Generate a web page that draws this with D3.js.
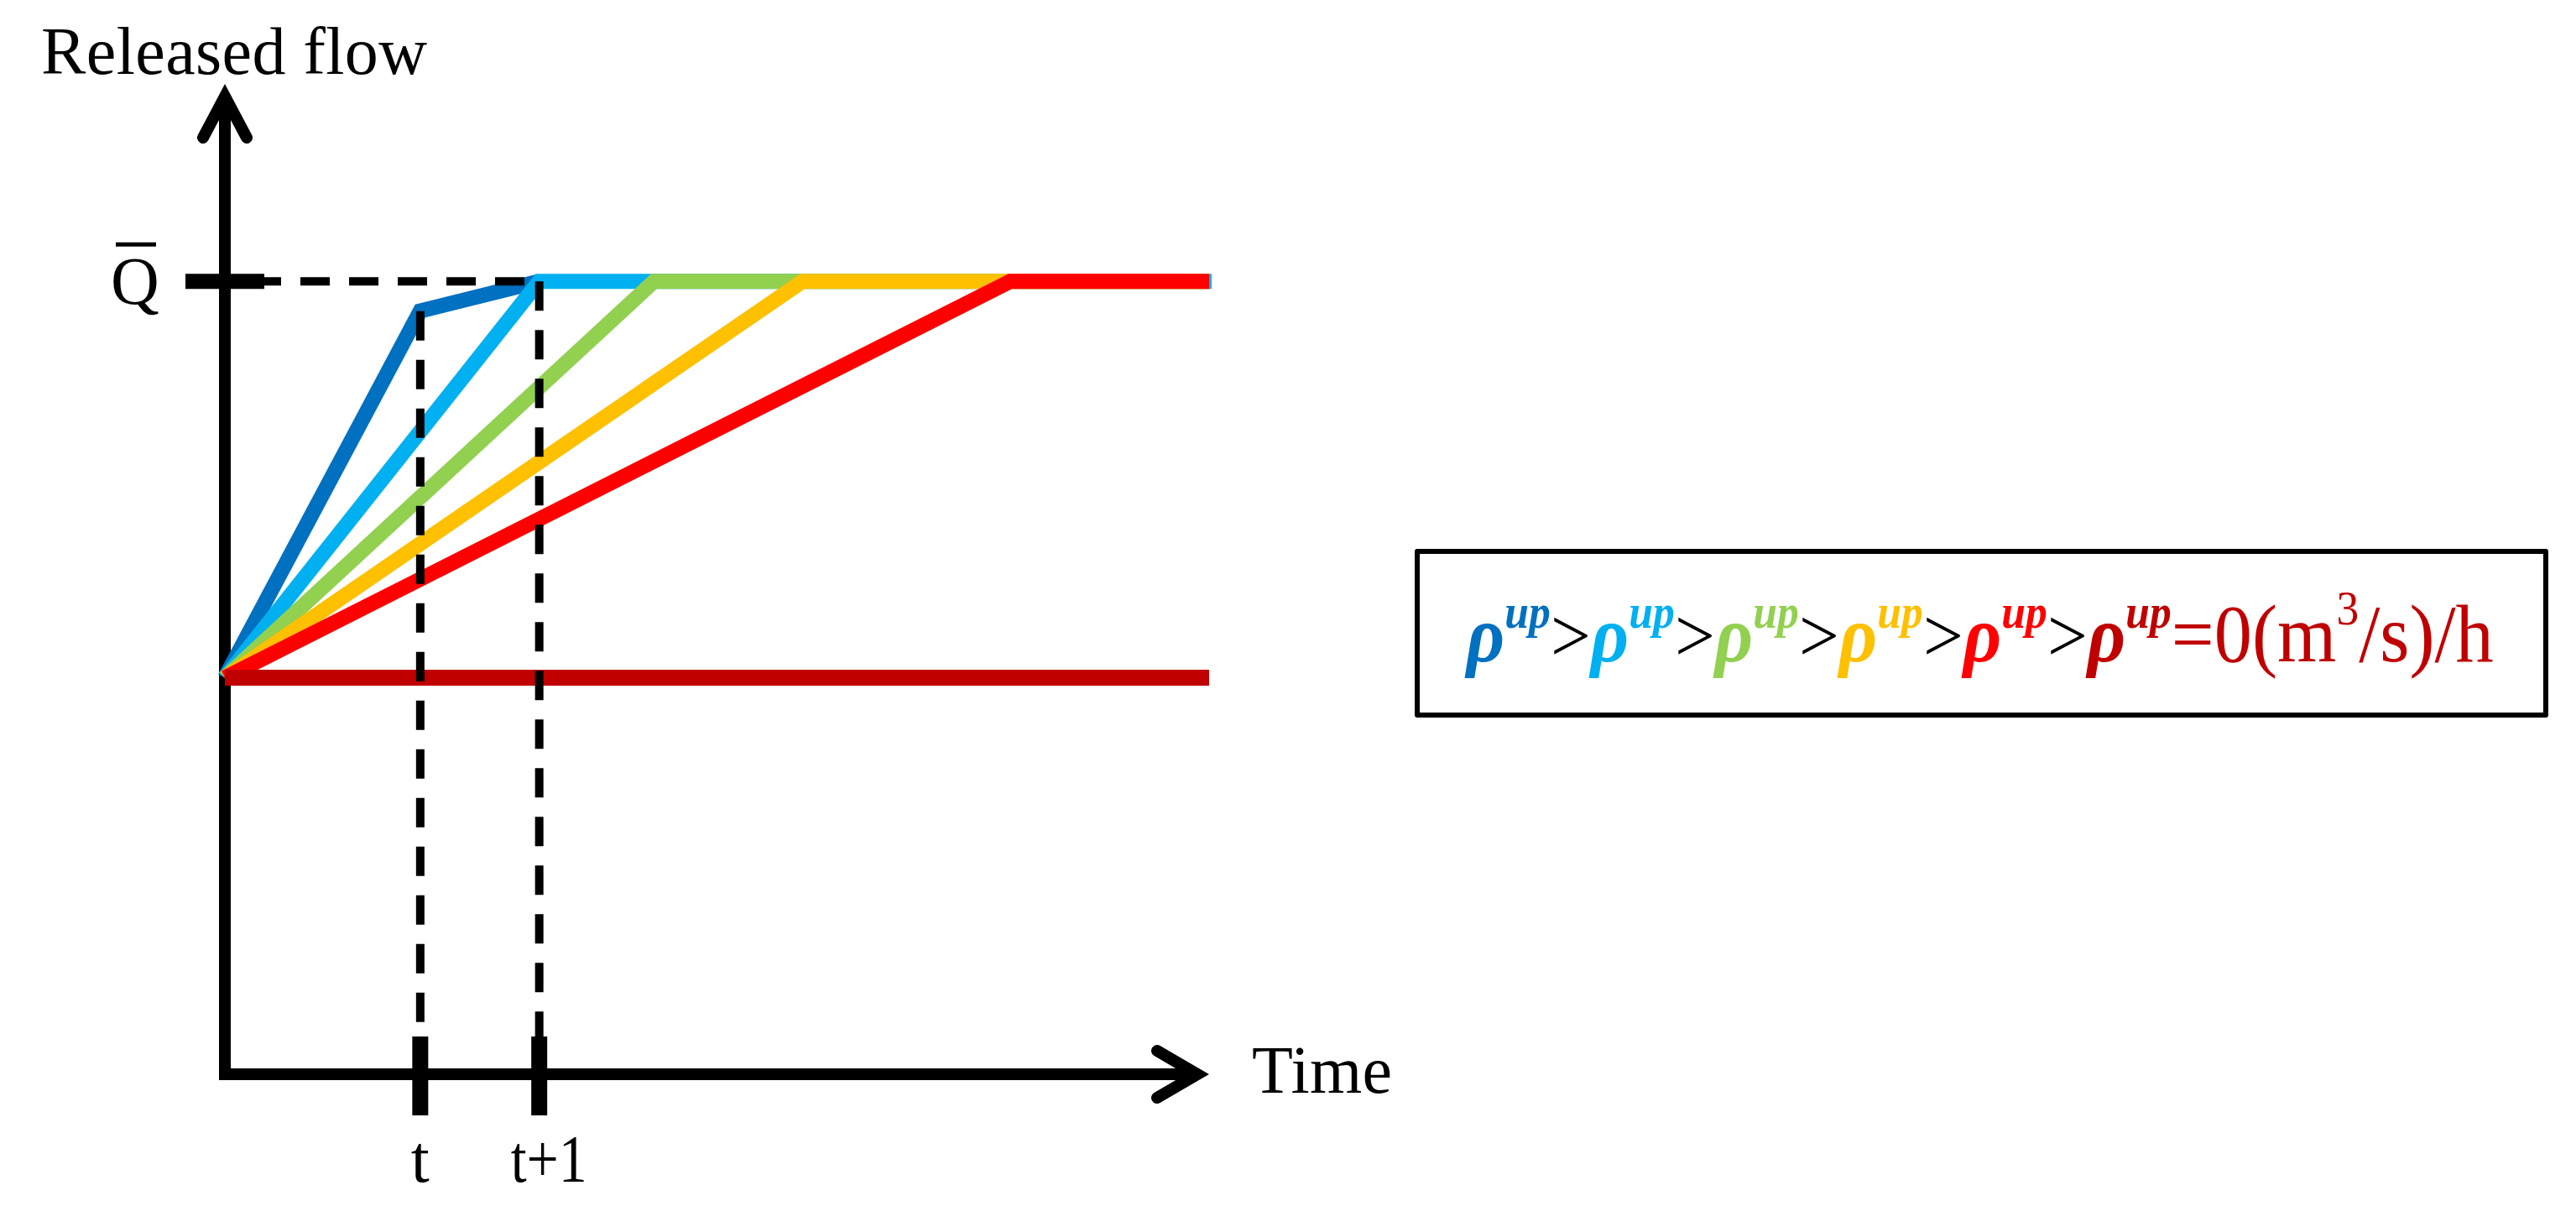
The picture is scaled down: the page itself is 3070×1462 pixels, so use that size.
<!DOCTYPE html>
<html>
<head>
<meta charset="utf-8">
<script src="https://cdn.jsdelivr.net/npm/d3@7"></script>
<style>
  body { margin: 0; background: #fff; }
  svg text { font-family: 'Liberation Serif', 'Times New Roman', serif; }
</style>
</head>
<body>
<div id="chart"></div>
<script>
// series values (x: abstract time units, y: flow units)
const seriesColors = ['#0070C0', '#00B0F0', '#92D050', '#FFC000', '#FF0000', '#C00000']
const darkBlue = [[0, 4], [19.85, 7.7], [31.94, 8]]
const cyan = [[0, 4], [31.94, 8], [100.25, 8]]
const green = [[0, 4], [43.6, 8], [100, 8]]
const orange = [[0, 4], [58.7, 8], [100, 8]]
const red = [[0, 4], [79.8, 8], [100, 8]]
const darkRed = [[0, 4], [100, 4]]
const series = [darkBlue, cyan, green, orange, red]

const tickValues = [19.85, 31.94]
const tickLabels = ['t', 't+1']
const qLevel = 8
const kinkLevel = 7.7

const yTitle = 'Released flow'
const xTitle = 'Time'
const unitLabel = '=0(m'
const unitSup = '3'
const unitTail = '/s)/h'

const width = 3070
const height = 1462

const svg = d3.select('#chart')
  .append('svg')
  .attr('width', width)
  .attr('height', height)

const x = d3.scaleLinear().domain([0, 100]).range([268, 1441])
const y = d3.scaleLinear().domain([0, 10]).range([1280, 99])

const line = d3.line().x(d => x(d[0])).y(d => y(d[1]))

// axes
const axes = svg.append('g')
  .attr('fill', 'none')
  .attr('stroke', '#000')
  .attr('stroke-width', 14)

axes.append('path')
  .attr('d', `M${x(0)},${y(0) + 7}V${y(10) + 16}`)
axes.append('path')
  .attr('d', `M${x(0) - 7},${y(0)}H${x(100) - 16}`)
// arrow heads, vertex pulled back so the miter tip lands on the axis end
axes.append('path')
  .attr('stroke-linecap', 'round')
  .attr('d', `M${x(0) - 26},${y(10) + 65}L${x(0)},${y(10) + 16}L${x(0) + 26},${y(10) + 65}`)
axes.append('path')
  .attr('stroke-linecap', 'round')
  .attr('d', `M${x(100) - 62},${y(0) - 28}L${x(100) - 14},${y(0)}L${x(100) - 62},${y(0) + 28}`)

// ramp lines
svg.append('g')
  .selectAll('path')
  .data(series)
  .join('path')
    .attr('d', line)
    .attr('fill', 'none')
    .attr('stroke', (d, i) => seriesColors[i])
    .attr('stroke-width', 18)
    .attr('stroke-linejoin', 'miter')

svg.append('path')
  .attr('d', line(darkRed))
  .attr('fill', 'none')
  .attr('stroke', seriesColors[5])
  .attr('stroke-width', 19)

// dashed guides
const guides = svg.append('g')
  .attr('stroke', '#000')
  .attr('stroke-width', 10)
  .attr('stroke-dasharray', '35,23')

guides.append('line')
  .attr('x1', x(0)).attr('x2', x(tickValues[1]))
  .attr('y1', y(qLevel)).attr('y2', y(qLevel))
  .attr('stroke-dashoffset', 26)
guides.append('line')
  .attr('x1', x(tickValues[0])).attr('x2', x(tickValues[0]))
  .attr('y1', y(kinkLevel)).attr('y2', y(0))
guides.append('line')
  .attr('x1', x(tickValues[1])).attr('x2', x(tickValues[1]))
  .attr('y1', y(qLevel)).attr('y2', y(0))

// ticks
svg.append('g')
  .selectAll('line')
  .data(tickValues)
  .join('line')
    .attr('x1', d => x(d)).attr('x2', d => x(d))
    .attr('y1', y(0) - 45).attr('y2', y(0) + 49)
    .attr('stroke', '#000')
    .attr('stroke-width', 19)

svg.append('line')
  .attr('x1', x(0) - 47).attr('x2', x(0) + 47)
  .attr('y1', y(qLevel)).attr('y2', y(qLevel))
  .attr('stroke', '#000')
  .attr('stroke-width', 18)

// labels
svg.append('text')
  .attr('x', 49).attr('y', 88)
  .attr('font-size', 80)
  .attr('textLength', 460)
  .text(yTitle)

svg.append('text')
  .attr('x', x(100) + 51).attr('y', 1302)
  .attr('font-size', 80)
  .attr('textLength', 167)
  .text(xTitle)

svg.append('g')
  .selectAll('text')
  .data(tickLabels)
  .join('text')
    .attr('x', (d, i) => i === 0 ? x(tickValues[i]) - 11 : x(tickValues[i]) - 34)
    .attr('y', 1408)
    .attr('font-size', 80)
    .attr('textLength', (d, i) => i === 0 ? 22 : 91)
    .attr('lengthAdjust', 'spacingAndGlyphs')
    .text(d => d)

// Q bar label
svg.append('text')
  .attr('x', 161).attr('y', y(qLevel) + 27)
  .attr('text-anchor', 'middle')
  .attr('font-size', 80)
  .text('Q')
svg.append('line')
  .attr('x1', 138).attr('x2', 186)
  .attr('y1', y(qLevel) - 44).attr('y2', y(qLevel) - 44)
  .attr('stroke', '#000')
  .attr('stroke-width', 5)

// legend box
svg.append('rect')
  .attr('x', 1689).attr('y', 657)
  .attr('width', 1345).attr('height', 195)
  .attr('fill', 'none')
  .attr('stroke', '#000')
  .attr('stroke-width', 6)
  .attr('stroke-linejoin', 'round')

const legend = svg.append('text')
  .attr('x', 0).attr('y', 0)

seriesColors.forEach((c, i) => {
  legend.append('tspan')
    .attr('fill', c)
    .attr('font-style', 'italic')
    .attr('font-weight', 'bold')
    .attr('font-size', 96)
    .text('ρ')
  legend.append('tspan')
    .attr('fill', c)
    .attr('font-style', 'italic')
    .attr('font-weight', 'bold')
    .attr('font-size', 56)
    .attr('dy', -40)
    .text('up')
  if (i < seriesColors.length - 1) {
    legend.append('tspan')
      .attr('fill', '#000')
      .attr('font-size', 92)
      .attr('dy', 40)
      .text('>')
  }
})
legend.append('tspan')
  .attr('fill', seriesColors[5])
  .attr('font-size', 98)
  .attr('dy', 40)
  .text(unitLabel)
legend.append('tspan')
  .attr('fill', seriesColors[5])
  .attr('font-size', 58)
  .attr('dy', -44)
  .text(unitSup)
legend.append('tspan')
  .attr('fill', seriesColors[5])
  .attr('font-size', 98)
  .attr('dy', 44)
  .text(unitTail)

// squeeze the legend text into the box span
const bb = legend.node().getBBox()
const targetLeft = 1745
const targetWidth = 2972 - 1745
const sx = targetWidth / bb.width
legend.attr('transform', `translate(${targetLeft - bb.x * sx},788) scale(${sx},1)`)
</script>
</body>
</html>
